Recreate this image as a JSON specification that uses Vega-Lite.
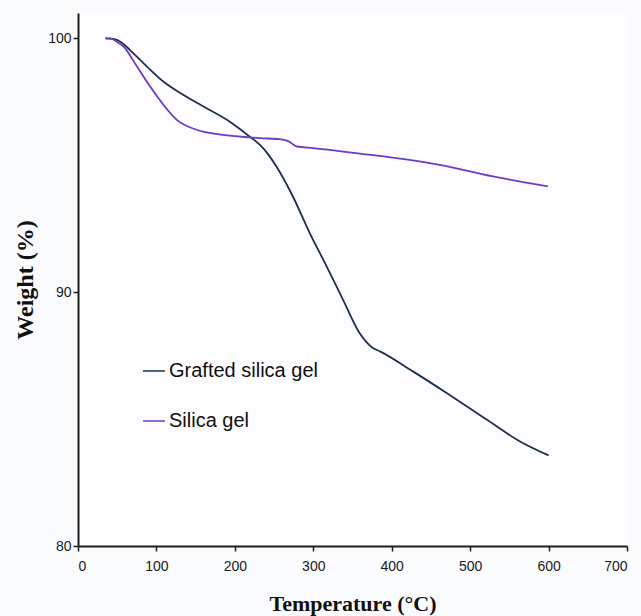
{
  "$schema": "https://vega.github.io/schema/vega-lite/v6.json",
  "width": 549,
  "height": 533,
  "autosize": {"type": "none"},
  "padding": {"left": 78, "top": 13, "right": 14, "bottom": 70},
  "background": "#fafbfd",
  "config": {
    "view": {"stroke": null, "fill": "#fdfdff"},
    "axis": {"grid": false, "domainColor": "#1e1e1e", "domainWidth": 2, "tickColor": "#1e1e1e", "tickWidth": 1.5, "tickSize": 5,
      "labelFont": "Liberation Sans", "labelFontSize": 14, "labelColor": "#1a1a1a",
      "titleFont": "Liberation Serif", "titleFontWeight": "bold", "titleColor": "#111111"}
  },
  "data": {"values": [
    {"series": "Grafted silica gel", "T": 35, "W": 100},
    {"series": "Grafted silica gel", "T": 45, "W": 99.98},
    {"series": "Grafted silica gel", "T": 55, "W": 99.85},
    {"series": "Grafted silica gel", "T": 66, "W": 99.55},
    {"series": "Grafted silica gel", "T": 87.5, "W": 98.9},
    {"series": "Grafted silica gel", "T": 108.7, "W": 98.3},
    {"series": "Grafted silica gel", "T": 134, "W": 97.78},
    {"series": "Grafted silica gel", "T": 163.8, "W": 97.25},
    {"series": "Grafted silica gel", "T": 193.6, "W": 96.72},
    {"series": "Grafted silica gel", "T": 219, "W": 96.13},
    {"series": "Grafted silica gel", "T": 232, "W": 95.8},
    {"series": "Grafted silica gel", "T": 242, "W": 95.45},
    {"series": "Grafted silica gel", "T": 253, "W": 94.95},
    {"series": "Grafted silica gel", "T": 274, "W": 93.77},
    {"series": "Grafted silica gel", "T": 295.5, "W": 92.33},
    {"series": "Grafted silica gel", "T": 317, "W": 91.02},
    {"series": "Grafted silica gel", "T": 338, "W": 89.7},
    {"series": "Grafted silica gel", "T": 359, "W": 88.39},
    {"series": "Grafted silica gel", "T": 376, "W": 87.8},
    {"series": "Grafted silica gel", "T": 385, "W": 87.67},
    {"series": "Grafted silica gel", "T": 427, "W": 86.88},
    {"series": "Grafted silica gel", "T": 470, "W": 86.03},
    {"series": "Grafted silica gel", "T": 521, "W": 84.98},
    {"series": "Grafted silica gel", "T": 563, "W": 84.13},
    {"series": "Grafted silica gel", "T": 600, "W": 83.57},
    {"series": "Silica gel", "T": 35, "W": 100},
    {"series": "Silica gel", "T": 41, "W": 100},
    {"series": "Silica gel", "T": 50, "W": 99.85},
    {"series": "Silica gel", "T": 58, "W": 99.68},
    {"series": "Silica gel", "T": 75, "W": 98.9},
    {"series": "Silica gel", "T": 92, "W": 98.1},
    {"series": "Silica gel", "T": 109, "W": 97.38},
    {"series": "Silica gel", "T": 126, "W": 96.79},
    {"series": "Silica gel", "T": 151, "W": 96.4},
    {"series": "Silica gel", "T": 185, "W": 96.2},
    {"series": "Silica gel", "T": 219, "W": 96.1},
    {"series": "Silica gel", "T": 232, "W": 96.07},
    {"series": "Silica gel", "T": 257, "W": 96.03},
    {"series": "Silica gel", "T": 268, "W": 95.95},
    {"series": "Silica gel", "T": 279, "W": 95.74},
    {"series": "Silica gel", "T": 300, "W": 95.68},
    {"series": "Silica gel", "T": 338, "W": 95.54},
    {"series": "Silica gel", "T": 370, "W": 95.42},
    {"series": "Silica gel", "T": 406, "W": 95.28},
    {"series": "Silica gel", "T": 461, "W": 95.02},
    {"series": "Silica gel", "T": 529, "W": 94.56},
    {"series": "Silica gel", "T": 599, "W": 94.17}
  ]},
  "mark": {"type": "line", "strokeWidth": 1.8, "interpolate": "monotone"},
  "encoding": {
    "x": {"field": "T", "type": "quantitative", "scale": {"domain": [0, 700], "nice": false},
      "axis": {"values": [0, 100, 200, 300, 400, 500, 600, 700], "title": "Temperature (°C)", "titleFontSize": 22, "titlePadding": 20, "labelPadding": 8}},
    "y": {"field": "W", "type": "quantitative", "scale": {"domain": [80, 101], "nice": false, "zero": false},
      "axis": {"values": [80, 90, 100], "title": "Weight (%)", "titleFontSize": 24, "titlePadding": 10, "labelPadding": 2}},
    "color": {"field": "series", "type": "nominal",
      "scale": {"domain": ["Grafted silica gel", "Silica gel"], "range": ["#1c2f4f", "#6a3cc8"]},
      "legend": {"title": null, "orient": "none", "legendX": 64, "legendY": 346, "symbolType": "stroke", "symbolSize": 484, "symbolStrokeWidth": 1.5,
        "labelFont": "Liberation Sans", "labelFontSize": 20, "labelColor": "#111111", "labelOffset": 3, "rowPadding": 28}}
  }
}
